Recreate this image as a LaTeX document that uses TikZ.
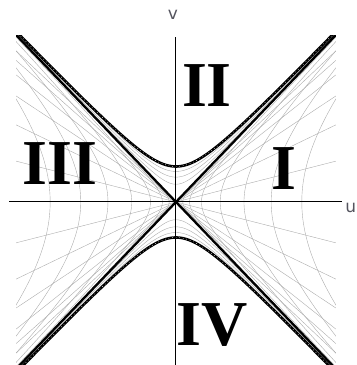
\documentclass[tikz,border=0pt]{standalone}
\usepackage{fontspec}
\setmainfont{Liberation Serif}
\newfontfamily\axisfont{DejaVu Sans}
\usetikzlibrary{calc}

\definecolor{axisgray}{RGB}{85,85,95}
\tikzset{
  rline/.style={gray!65, line width=0.4pt},
  tline/.style={gray!65, line width=0.4pt},
  horizon/.style={black, line width=2.3pt},
  sing/.style={black, line width=2.6pt},
  singdots/.style={white, line width=0.5pt, dash pattern=on 0.6pt off 3pt},
  region/.style={font=\fontsize{64}{64}\selectfont\bfseries, inner sep=0pt, anchor=base},
  axislabel/.style={font=\axisfont\fontsize{17}{17}\selectfont, text=axisgray, inner sep=0pt}
}

\begin{document}
\begin{tikzpicture}[x=34pt,y=35.5pt]
\useasboundingbox (-5.176,-4.592) rectangle (5.324,5.690);

\begin{scope}
\clip (-4.7,-4.7) rectangle (4.7,4.7);

% constant r outside the horizon (I and III)
\foreach \a in {0.2,0.4,0.75,1.3,2.0,2.8,3.7}{
  \draw[rline] plot[smooth, domain=-4:4, samples=90] ({\a*cosh(\x)},{\a*sinh(\x)});
  \draw[rline] plot[smooth, domain=-4:4, samples=90] ({-\a*cosh(\x)},{\a*sinh(\x)});
}

% constant r inside the horizon (II and IV)
\foreach \b in {0.5,0.7,0.86}{
  \draw[rline] plot[smooth, domain=-3.4:3.4, samples=90] ({\b*sinh(\x)},{\b*cosh(\x)});
  \draw[rline] plot[smooth, domain=-3.4:3.4, samples=90] ({\b*sinh(\x)},{-\b*cosh(\x)});
}

% constant t
\foreach \k in {1,...,6}{
  \draw[tline] (-4.7,{-4.7*tanh(\k/4)}) -- (4.7,{4.7*tanh(\k/4)});
  \draw[tline] (-4.7,{4.7*tanh(\k/4)}) -- (4.7,{-4.7*tanh(\k/4)});
}

% singularity
\draw[sing] plot[smooth, domain=-2.3:2.3, samples=80] ({sinh(\x)},{cosh(\x)});
\draw[sing] plot[smooth, domain=-2.3:2.3, samples=80] ({sinh(\x)},{-cosh(\x)});
\draw[singdots] plot[smooth, domain=-2.3:2.3, samples=80] ({sinh(\x)},{cosh(\x)});
\draw[singdots] plot[smooth, domain=-2.3:2.3, samples=80] ({sinh(\x)},{-cosh(\x)});

% horizons
\coordinate (tl) at (-4.7,4.7);
\coordinate (tr) at (4.7,4.7);
\coordinate (bl) at (-4.7,-4.7);
\coordinate (br) at (4.7,-4.7);
\draw[horizon] (tl) -- (br);
\draw[horizon] (tr) -- (bl);
\end{scope}

% axes
\coordinate (uleft) at (-4.9,0);
\coordinate (uright) at (4.88,0);
\coordinate (vtop) at (0,4.65);
\coordinate (vbot) at (0,-4.6);
\draw[line width=1pt] (uleft) -- (uright);
\draw[line width=1pt] (vbot) -- (vtop);

\node[axislabel] (vlab) at (-0.09,5.26) {v};
\node[axislabel, anchor=west] (ulab) at (4.98,-0.16) {u};

% regions
\node[region] (rI) at (3.18,0.34) {I};
\node[region] (rII) at (0.91,2.68) {II};
\node[region] (rIII) at (-3.41,0.48) {III};
\node[region] (rIV) at (1.06,-4.03) {IV};

\end{tikzpicture}
\end{document}
